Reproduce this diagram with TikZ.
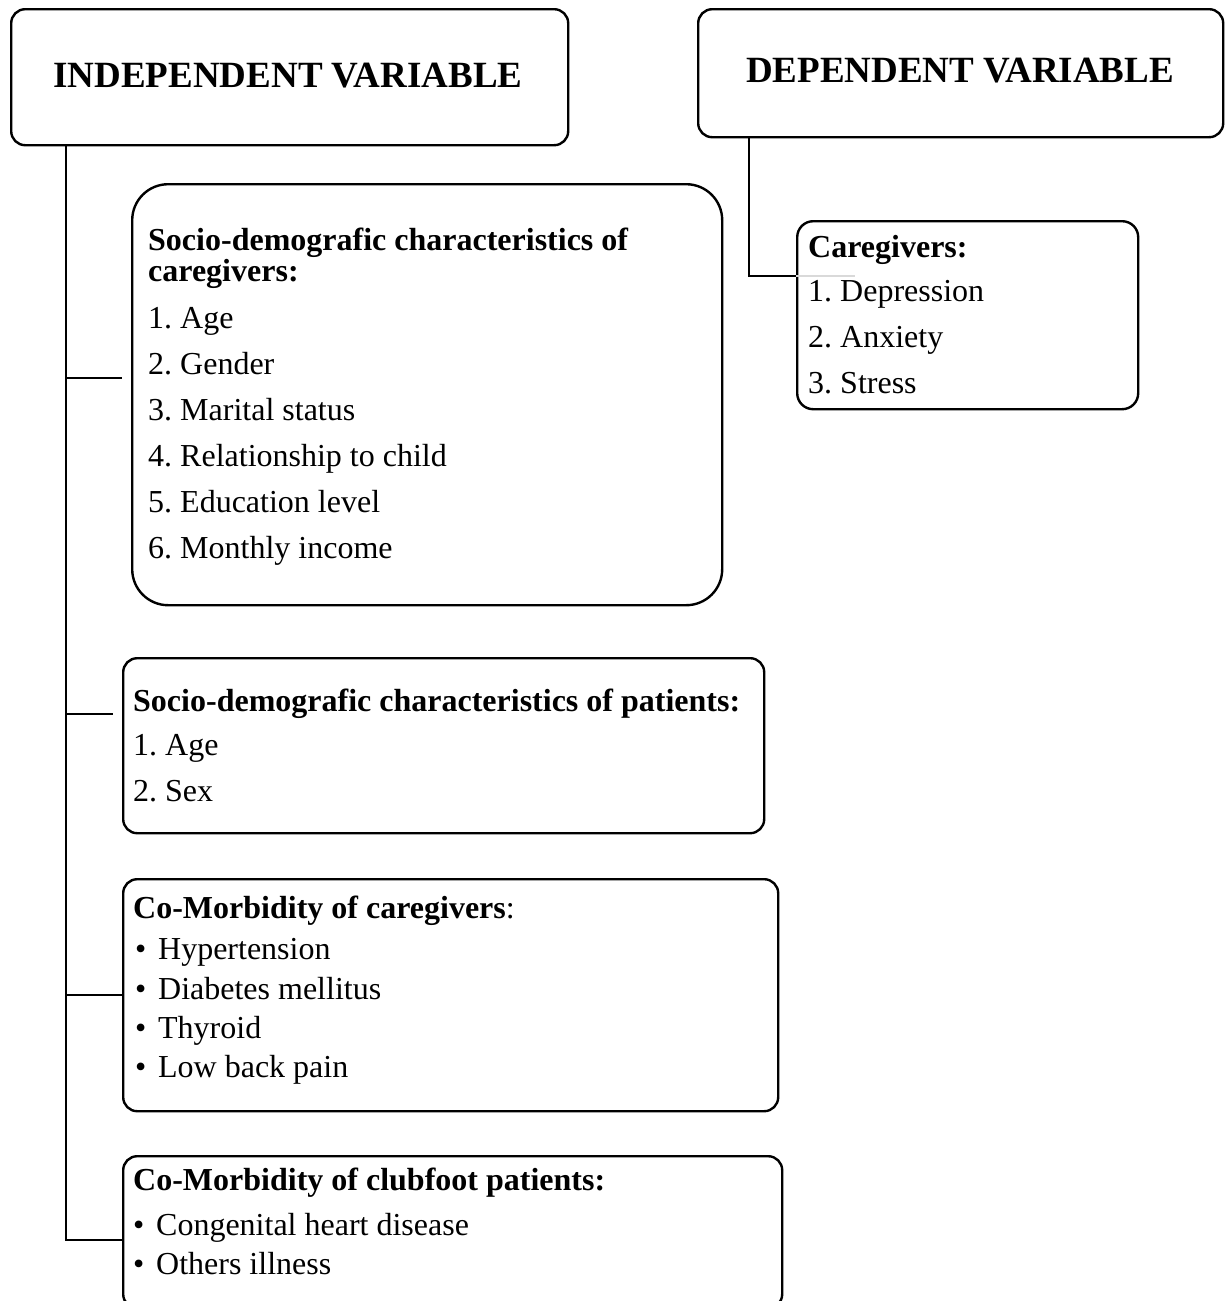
\documentclass[tikz,border=0pt]{standalone}
\usepackage{fontspec}
\setmainfont{Liberation Serif}
\frenchspacing
\newcommand{\bul}[1]{\makebox[23pt][l]{\textbullet}#1}
\begin{document}
\begin{tikzpicture}[x=1pt,y=-1pt,
  box/.style={draw,line width=2.4pt,rounded corners=#1,inner sep=0pt,anchor=north west},
  box/.default=14pt,
  big/.style={font=\fontsize{37}{40}\selectfont\bfseries,inner sep=0pt},
  txt/.style={font=\fontsize{32}{36}\selectfont,inner sep=0pt,anchor=base west},
  hd/.style={txt,font=\fontsize{32}{36}\selectfont\bfseries},
  link/.style={line width=2.4pt}]
\clip (0,0) rectangle (1230,1301);
\useasboundingbox (0,0) rectangle (1230,1301);
% heading boxes
\node[box, minimum width=557pt, minimum height=136pt] (iv) at (10,8) {};
\node[big] (ivt) at (288,76) {INDEPENDENT VARIABLE};
\node[box, minimum width=525pt, minimum height=128pt] (dv) at (697,8) {};
\node[big] (dvt) at (960,71) {DEPENDENT VARIABLE};
% box 1
\node[box=36pt, minimum width=590pt, minimum height=421pt] (b1) at (131,183) {};
\node[hd] (b1h1) at (148,250) {Socio-demografic characteristics of};
\node[hd] (b1h2) at (148,281) {caregivers:};
\node[txt] (b1i1) at (148,328) {1. Age};
\node[txt] (b1i2) at (148,374) {2. Gender};
\node[txt] (b1i3) at (148,420) {3. Marital status};
\node[txt] (b1i4) at (148,466) {4. Relationship to child};
\node[txt] (b1i5) at (148,512) {5. Education level};
\node[txt] (b1i6) at (148,558) {6. Monthly income};
% caregivers box
\node[box=16pt, minimum width=341pt, minimum height=188pt] (cg) at (796,220) {};
\node[hd] (cgh) at (808,257) {Caregivers:};
\node[txt] (cg1) at (808,301) {1. Depression};
\node[txt] (cg2) at (808,347) {2. Anxiety};
\node[txt] (cg3) at (808,393) {3. Stress};
% box 2
\node[box, minimum width=641pt, minimum height=175pt] (b2) at (122,657) {};
\node[hd] (b2h) at (133,711) {Socio-demografic characteristics of patients:};
\node[txt] (b2i1) at (133,755) {1. Age};
\node[txt] (b2i2) at (133,801) {2. Sex};
% box 3
\node[box, minimum width=655pt, minimum height=232pt] (b3) at (122,878) {};
\node[txt] (b3h) at (133,918) {\textbf{Co-Morbidity of caregivers}:};
\node[txt] (b3i1) at (135,959) {\bul{Hypertension}};
\node[txt] (b3i2) at (135,999) {\bul{Diabetes mellitus}};
\node[txt] (b3i3) at (135,1038) {\bul{Thyroid}};
\node[txt] (b3i4) at (135,1077) {\bul{Low back pain}};
% box 4
\node[box, minimum width=659pt, minimum height=152pt] (b4) at (122,1155) {};
\node[hd] (b4h) at (133,1190) {Co-Morbidity of clubfoot patients:};
\node[txt] (b4i1) at (133,1235) {\bul{Congenital heart disease}};
\node[txt] (b4i2) at (133,1274) {\bul{Others illness}};
% connectors
\coordinate (tk) at (66,0);
\coordinate (j1) at (122,378);
\coordinate (j2) at (113,714);
\coordinate (j4) at (0,1240);
\coordinate (dk) at (749,0);
\coordinate (dj) at (0,276);
\draw[link] (iv.south -| tk) |- (b4.west |- j4);
\draw[link] (tk |- j1) -- (j1);
\draw[link] (tk |- j2) -- (j2);
\draw[link] (tk |- b3.west) -- (b3.west);
\draw[link] (dv.south -| dk) |- (cg.west |- dj);
\coordinate (gr) at (855,276);
\draw[black!15,line width=1.5pt] (cg.west |- dj) -- (gr);
\end{tikzpicture}
\end{document}
